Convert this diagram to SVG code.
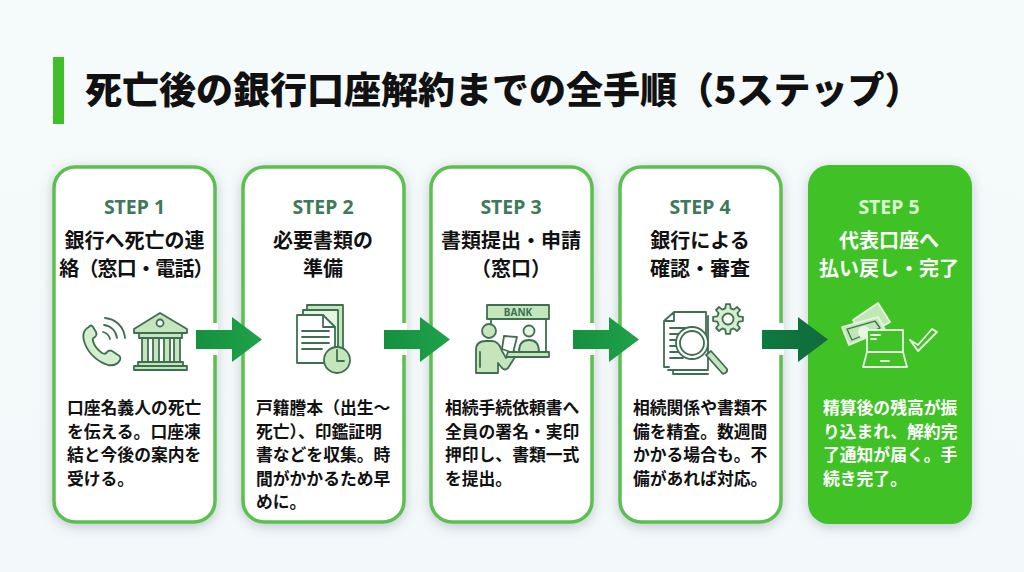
<svg xmlns="http://www.w3.org/2000/svg" width="1024" height="572" viewBox="0 0 1024 572">
<defs>
<filter id="sh" x="-25%" y="-15%" width="150%" height="130%"><feDropShadow dx="0" dy="3" stdDeviation="6" flood-color="#5b6b7b" flood-opacity="0.33"/></filter>
<linearGradient id="bg" x1="0" y1="0" x2="0" y2="1"><stop offset="0" stop-color="#f5fafa"/><stop offset="1" stop-color="#f3f8fa"/></linearGradient>
<linearGradient id="a1" x1="0" x2="1"><stop offset="0" stop-color="#15903f"/><stop offset="1" stop-color="#1fa24a"/></linearGradient>
<linearGradient id="a4" x1="0" x2="1"><stop offset="0" stop-color="#0d7a3e"/><stop offset="1" stop-color="#126b3d"/></linearGradient>
<path id="arr" d="M0-9.500H36V-22.500L66 0 36 22.500V9.500H0Z"/>
</defs>
<style>
text{font-family:"Noto Sans CJK JP","Noto Sans",sans-serif;text-anchor:middle;fill:#111}
.card{fill:#fff;stroke:#5cc04f;stroke-width:3.5}
.gap{fill:#fff}
.step{font-family:"Noto Sans","Noto Sans CJK JP",sans-serif;font-size:19.5px;font-weight:700;fill:#3d7a5a}
.head{font-size:20px;font-weight:700}
.body{font-size:16.8px;font-weight:700;text-anchor:start}
.w{fill:#fff}
.ic{fill:none;stroke:#3f6f52;stroke-width:1.8;stroke-linejoin:round;stroke-linecap:round}
.if{fill:#c5e6bd;stroke:#3f6f52;stroke-width:1.8;stroke-linejoin:round;stroke-linecap:round}
.iw{fill:none;stroke:#e9f9e4;stroke-width:1.8;stroke-linejoin:round;stroke-linecap:round}
.iwf{fill:#bfe8b4;stroke:#e9f9e4;stroke-width:1.8;stroke-linejoin:round}
</style>
<rect width="1024" height="572" fill="url(#bg)"/>
<g id="title">
<rect x="53" y="57" width="11" height="67" fill="#3fc02a"/>
<text x="85" y="104" style="font-size:37px;font-weight:900;text-anchor:start">死亡後の銀行口座解約までの全手順（5ステップ）</text>
</g>
<g id="node1">
<rect class="card" x="54" y="167" width="161" height="355" rx="21" filter="url(#sh)"/>
<text class="step" x="134.500" y="214">STEP 1</text>
<text class="head" x="134.500" y="248">銀行へ死亡の連</text>
<text class="head" x="136" y="276" style="letter-spacing:-0.8px">絡（窓口・電話）</text>
<g>
<path class="if" d="M89 327c-6 3-7 9-4 17 4 10 13 18 23 21 6 1 10-1 12-5 1-2 0-4-2-5l-6-4c-2-1-4 0-5 1-1 2-3 2-5 1-4-3-8-8-9-12-1-2 0-3 2-4 2-2 2-3 1-5l-3-5c-1-2-3-2-4-0z" style="fill:#d5eecd"/>
<path class="ic" d="M103 332c4 1 6 3 7 7M104 325c7 1 12 6 13 13M105 318c11 1 19 9 20 20"/>
<path class="if" d="M134 329 160 313 187 329V333H134Z"/>
<circle class="ic" cx="160" cy="323" r="3.500" style="fill:#fff"/>
<path class="if" d="M139 333H182V338H139ZM142 338H148V362H142ZM153 338H159V362H153ZM164 338H170V362H164ZM174 338H180V362H174ZM138 362H183V366H138ZM134 366H187V370H134Z"/>
</g>
</g>
<g id="node2">
<rect class="card" x="243" y="167" width="161" height="355" rx="21" filter="url(#sh)"/>
<text class="step" x="323" y="214">STEP 2</text>
<text class="head" x="323" y="248">必要書類の</text>
<text class="head" x="323" y="276">準備</text>
<g>
<path class="if" d="M307 305H343V350H307Z"/>
<path class="if" d="M303 310H338V352H303Z" style="fill:#e5f5e0"/>
<path class="ic" d="M297 315H323L335 327V363H297Z" style="fill:#fff"/>
<path class="ic" d="M323 315V327H335M302 331H329M302 337H329M302 343H329M302 349H322"/>
<circle class="if" cx="337" cy="360" r="13"/>
<path class="ic" d="M337 350V361H344"/>
</g>
</g>
<g id="node3">
<rect class="card" x="431" y="167" width="161" height="355" rx="21" filter="url(#sh)"/>
<text class="step" x="511" y="214">STEP 3</text>
<text class="head" x="511" y="248">書類提出・申請</text>
<text class="head" x="511" y="276">（窓口）</text>
<g>
<rect class="if" x="487" y="305" width="62" height="14"/>
<text x="518" y="316" style="font-family:'Noto Sans',sans-serif;font-size:10px;font-weight:700;fill:#3f6f52">BANK</text>
<path class="ic" d="M491 319V323M546 319V353"/>
<circle class="if" cx="489" cy="331" r="7"/>
<path class="if" d="M476 373V350c0-6 4-9 10-9h6c5 0 8 4 10 10l4 7 7-8 4 4-9 14c-2 2-4 2-6 0l-4-5V373Z"/>
<path class="ic" d="M480 352V367"/>
<path style="fill:#fff" class="ic" d="M504 336 517 337 513 353 502 349Z"/>
<circle class="if" cx="529" cy="331" r="5.500" style="fill:#e5f5e0"/>
<path class="if" d="M519 352c0-8 4-12 10-12s10 4 10 12Z"/>
<path class="if" d="M508 352H549V357H506Z"/>
</g>
</g>
<g id="node4">
<rect class="card" x="620" y="167" width="161" height="355" rx="21" filter="url(#sh)"/>
<text class="step" x="700" y="214">STEP 4</text>
<text class="head" x="700" y="248">銀行による</text>
<text class="head" x="700" y="276">確認・審査</text>
<g>
<path class="ic" d="M668 370H708V316M673 370V374H708"/>
<path class="ic" d="M664 321 674 312H706V340M664 321H674V312M664 321V367H669M670 328H687M670 334H683M670 340H681M670 346H679M670 352H680M670 358H683"/>
<circle class="ic" cx="692" cy="343" r="16" style="fill:#fff"/>
<circle class="if" cx="692" cy="343" r="12" style="fill:#fff"/>
<path class="if" d="M706 355 711 351 727 369C728 372 724 375 722 373Z"/>
<g transform="translate(728 319)">
<path class="if" style="fill:#d5eecd" d="M10.700-2.700 14.900-2.100V2.100L10.700 2.700 9.400 5.700 12 9 9 12 5.700 9.400 2.700 10.700 2.100 14.900H-2.100L-2.700 10.700-5.700 9.400-9 12-12 9-9.400 5.700-10.700 2.700-14.900 2.100V-2.100L-10.700-2.700-9.400-5.700-12-9-9-12-5.700-9.400-2.700-10.700-2.100-14.900H2.100L2.700-10.700 5.700-9.400 9-12 12-9 9.400-5.700Z"/>
<circle class="if" r="5.500" style="fill:#fff"/>
</g>
</g>
</g>
<g id="node5">
<rect x="808" y="165" width="164" height="359" rx="21" fill="#3fc227" filter="url(#sh)"/>
<text class="step" x="889" y="214" style="fill:#d8f5d0">STEP 5</text>
<text class="head w" x="889" y="248">代表口座へ</text>
<text class="head w" x="889" y="276">払い戻し・完了</text>
<g>
<path class="iwf" d="M853 320 878 303 890 322 862 338Z"/>
<path class="iwf" d="M842 327 878 317 885 330 849 345Z"/>
<path class="ic" d="M847 329 875 321 880 328 852 340Z" style="stroke-width:1.3"/>
<circle cx="864" cy="332" r="6" fill="#e8f7e0"/>
<path class="iw" d="M867 330H903V352H867Z" style="fill:#3fc227"/>
<path class="iw" d="M867 352 863 367H907L903 352ZM871 335H880M871 339H876M881 361H889"/>
<path class="iw" d="M910 340 918 345 932 329 937 332 918 351Z"/>
</g>
<text class="body w" x="823" y="414">精算後の残高が振</text>
<text class="body w" x="823" y="437.500">り込まれ、解約完</text>
<text class="body w" x="823" y="461">了通知が届く。手</text>
<text class="body w" x="823" y="484.500">続き完了。</text>
</g>
<g id="bodies">
<text class="body" x="67" y="414">口座名義人の死亡</text>
<text class="body" x="67" y="437.500">を伝える。口座凍</text>
<text class="body" x="67" y="461">結と今後の案内を</text>
<text class="body" x="67" y="484.500">受ける。</text>
<text class="body" x="256" y="414">戸籍謄本（出生～</text>
<text class="body" x="256" y="437.500">死亡）、印鑑証明</text>
<text class="body" x="256" y="461">書などを収集。時</text>
<text class="body" x="256" y="484.500">間がかかるため早</text>
<text class="body" x="256" y="508">めに。</text>
<text class="body" x="445" y="414">相続手続依頼書へ</text>
<text class="body" x="445" y="437.500">全員の署名・実印</text>
<text class="body" x="445" y="461">押印し、書類一式</text>
<text class="body" x="445" y="484.500">を提出。</text>
<text class="body" x="633" y="414">相続関係や書類不</text>
<text class="body" x="633" y="437.500">備を精査。数週間</text>
<text class="body" x="633" y="461">かかる場合も。不</text>
<text class="body" x="633" y="484.500">備があれば対応。</text>
</g>
<g id="connectors">
<rect class="gap" x="212" y="323" width="6" height="32"/>
<rect class="gap" x="401" y="323" width="6" height="32"/>
<rect class="gap" x="589" y="323" width="6" height="32"/>
<rect class="gap" x="778" y="323" width="6" height="32"/>
<use href="#arr" x="196" y="339.500" fill="url(#a1)"/>
<use href="#arr" x="384" y="339.500" fill="url(#a1)"/>
<use href="#arr" x="573" y="339.500" fill="url(#a1)"/>
<use href="#arr" x="762" y="339.500" fill="url(#a4)"/>
</g>
</svg>
